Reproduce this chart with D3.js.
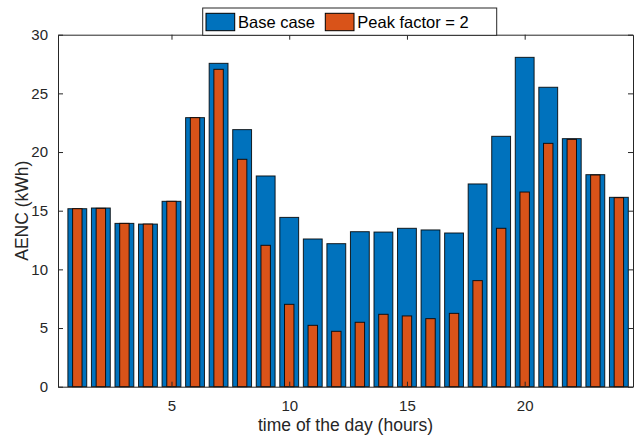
<!DOCTYPE html>
<html>
<head>
<meta charset="utf-8">
<script src="https://cdn.jsdelivr.net/npm/d3@7"></script>
<style>
  html, body { margin: 0; padding: 0; background: #fff; }
  svg text { font-family: "Liberation Sans", Arial, Helvetica, sans-serif; }
</style>
</head>
<body>
<div id="chart"></div>
<script>
// hours of the day
var hours = [1, 2, 3, 4, 5, 6, 7, 8, 9, 10, 11, 12, 13, 14, 15, 16, 17, 18, 19, 20, 21, 22, 23, 24];
// AENC (kWh)
var baseCase = [15.17, 15.23, 13.92, 13.86, 15.80, 22.93, 27.56, 21.91, 17.96, 14.43, 12.59, 12.19,
                13.21, 13.18, 13.50, 13.36, 13.10, 17.28, 21.34, 28.07, 25.52, 21.14, 18.07, 16.14];
var peakFactor2 = [15.17, 15.20, 13.92, 13.86, 15.80, 22.93, 27.05, 19.38, 12.05, 7.02, 5.23, 4.72,
                   5.49, 6.17, 6.03, 5.80, 6.25, 9.04, 13.50, 16.59, 20.74, 21.08, 18.04, 16.11];
var xTicks = [5, 10, 15, 20];
var yTicks = [0, 5, 10, 15, 20, 25, 30];
var seriesNames = ["Base case", "Peak factor = 2"];

var width = 634, height = 438;
var margin = { top: 34.7, right: 1, bottom: 51.3, left: 58 };
var colors = ["#0072BD", "#D95319"];
var axisColor = "#262626";

var svg = d3.select("#chart").append("svg")
    .attr("width", width)
    .attr("height", height);

var x = d3.scaleLinear().domain([0.18, 24.6]).range([margin.left, width - margin.right]);
var y = d3.scaleLinear().domain([0, 30]).range([height - margin.bottom, margin.top]);

var unit = x(1) - x(0);

//Draw wide base case bars, then narrow peak bars on top
function drawBars(values, barWidth, color) {
  svg.append("g").selectAll("rect")
    .data(values).enter()
    .append("rect")
    .attr("x", function (d, i) { return x(hours[i]) - barWidth * unit / 2; })
    .attr("width", barWidth * unit)
    .attr("y", function (d) { return y(d); })
    .attr("height", function (d) { return y(0) - y(d); })
    .attr("fill", color)
    .attr("stroke", "#000")
    .attr("stroke-width", 1)
    .attr("stroke-opacity", 0.85);
}
drawBars(baseCase, 0.8, colors[0]);
drawBars(peakFactor2, 0.4, colors[1]);

// axes with inward ticks, box on
var x0 = x.range()[0], x1 = x.range()[1], y0 = y.range()[0], y1 = y.range()[1];

var gB = svg.append("g").attr("transform", "translate(0," + y0 + ")")
  .call(d3.axisBottom(x).tickValues(xTicks).tickSizeInner(-5).tickSizeOuter(0).tickPadding(14));
var gT = svg.append("g").attr("transform", "translate(0," + y1 + ")")
  .call(d3.axisTop(x).tickValues(xTicks).tickSizeInner(-5).tickSizeOuter(0).tickFormat(""));
var gL = svg.append("g").attr("transform", "translate(" + x0 + ",0)")
  .call(d3.axisLeft(y).tickValues(yTicks).tickSizeInner(-5).tickSizeOuter(0).tickPadding(10));
var gR = svg.append("g").attr("transform", "translate(" + x1 + ",0)")
  .call(d3.axisRight(y).tickValues(yTicks).tickSizeInner(-5).tickSizeOuter(0).tickFormat(""));

[gB, gT, gL, gR].forEach(function (g) {
  g.select(".domain").attr("stroke", axisColor).attr("stroke-width", 1);
  g.selectAll(".tick line").attr("stroke", axisColor);
  g.selectAll(".tick text").attr("fill", axisColor).style("font-size", "15px");
});

svg.append("text")
  .attr("x", (x0 + x1) / 2)
  .attr("y", 431)
  .attr("text-anchor", "middle")
  .attr("fill", axisColor)
  .style("font-size", "17.5px")
  .text("time of the day (hours)");

svg.append("text")
  .attr("transform", "translate(28," + (y0 + y1) / 2 + ") rotate(-90)")
  .attr("text-anchor", "middle")
  .attr("fill", axisColor)
  .style("font-size", "17.5px")
  .text("AENC (kWh)");

// legend
var legend = svg.append("g");
legend.append("rect")
  .attr("x", 202.7).attr("y", 8)
  .attr("width", 294).attr("height", 27.3)
  .attr("fill", "#fff")
  .attr("stroke", axisColor)
  .attr("stroke-width", 1);
var legendX = [206, 325.3];
seriesNames.forEach(function (name, i) {
  legend.append("rect")
    .attr("x", legendX[i]).attr("y", 13.3)
    .attr("width", 28.7).attr("height", 17.4)
    .attr("fill", colors[i])
    .attr("stroke", "#000");
  legend.append("text")
    .attr("x", legendX[i] + 32)
    .attr("y", 28)
    .attr("fill", "#000")
    .style("font-size", "16.5px")
    .text(name);
});
</script>
</body>
</html>
